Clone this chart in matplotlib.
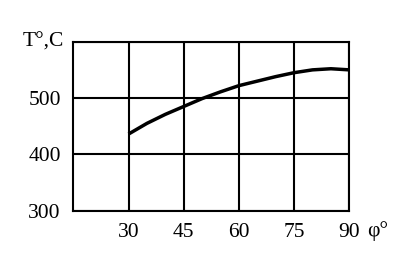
import matplotlib.pyplot as plt

# curve
phi = [30, 35, 40, 45, 50, 55, 60, 65, 70, 75, 80, 85, 90]
temp = [436, 455, 471, 485, 499, 511, 522, 530, 538, 545, 550, 552, 550]

x_ticks = [30, 45, 60, 75, 90]
y_ticks = [300, 400, 500]

plt.rcParams['font.family'] = ['Liberation Serif', 'DejaVu Serif']

fig = plt.figure(figsize=(4.1, 2.6), dpi=100)
ax = fig.add_axes([73.3 / 410, 1 - 210.7 / 260, 276 / 410, 169 / 260])

ax.plot(phi, temp, color='black', lw=2.5, solid_capstyle='butt')

ax.set_xlim(15, 90)
ax.set_ylim(300, 600)
ax.set_xticks(x_ticks)
ax.set_yticks(y_ticks + [600])
ax.set_yticklabels([str(v) for v in y_ticks] + [''])
ax.grid(True, color='black', lw=1.5)
ax.tick_params(length=0, labelsize=15.5)
ax.tick_params(axis='y', pad=9)
ax.tick_params(axis='x', pad=9)
for s in ax.spines.values():
    s.set_linewidth(1.5)

fig.text(43 / 410, 1 - 42.5 / 260, 'T°,C', ha='center', va='center', fontsize=15.5)
fig.text(378 / 410, 1 - 231 / 260, 'φ°', ha='center', va='center', fontsize=15.5)

fig.savefig('out.png', dpi=100)
